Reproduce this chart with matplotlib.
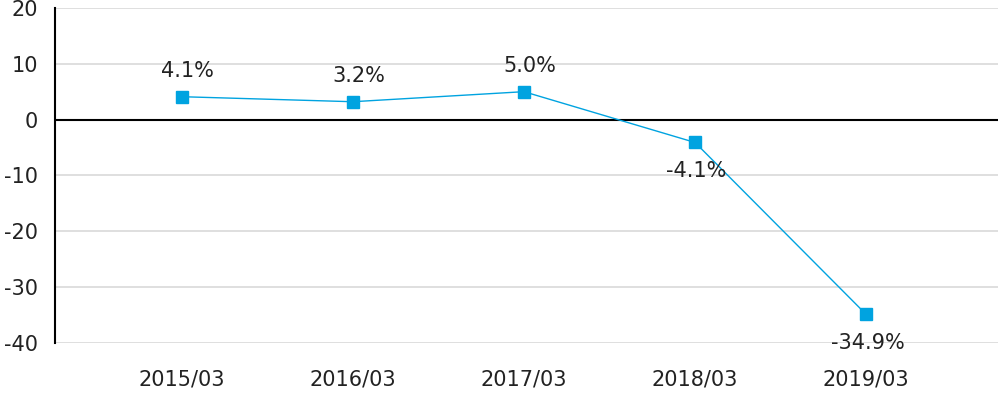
import matplotlib
matplotlib.use("Agg")
import matplotlib.pyplot as plt

categories = ["2015/03", "2016/03", "2017/03", "2018/03", "2019/03"]
values = [4.1, 3.2, 5.0, -4.1, -34.9]
labels = ["4.1%", "3.2%", "5.0%", "-4.1%", "-34.9%"]
yticks = [20, 10, 0, -10, -20, -30, -40]

plt.rcParams['font.family'] = ['DejaVu Sans']
FS = 15

fig = plt.figure(figsize=(9.98, 3.96), dpi=100)
ax = fig.add_axes([0.0551, 0.134, 0.9449, 0.846])

x = list(range(len(categories)))
color = "#00a3e0"
ax.plot(x, values, color=color, linewidth=1, marker="s", markersize=8.5,
        markerfacecolor=color, markeredgecolor=color, zorder=3)

for xi, v, lab in zip(x, values, labels):
    if v >= 0:
        ax.annotate(lab, (xi, v), xytext=(4, 11), textcoords="offset points",
                    ha="center", va="bottom", fontsize=FS, color="#222222")
    else:
        ax.annotate(lab, (xi, v), xytext=(1, -13), textcoords="offset points",
                    ha="center", va="top", fontsize=FS, color="#222222")

ax.set_xlim(-0.74, 4.77)
ax.set_ylim(-40, 20)
ax.set_yticks(yticks)
ax.set_yticklabels([str(t) for t in yticks], fontsize=FS, color="#222222")
ax.set_xticks(x)
ax.set_xticklabels(categories, fontsize=FS, color="#222222")
ax.tick_params(axis="both", length=0)
ax.tick_params(axis="x", pad=19)
ax.tick_params(axis="y", pad=12)

ax.grid(axis="y", color="#d9d9d9", linewidth=1.2)
ax.set_axisbelow(True)
ax.axhline(0, color="black", linewidth=1.5, zorder=2)

for s in ["top", "right", "bottom"]:
    ax.spines[s].set_visible(False)
ax.spines["left"].set_color("black")
ax.spines["left"].set_linewidth(1.5)

fig.savefig("out.png", dpi=100)
